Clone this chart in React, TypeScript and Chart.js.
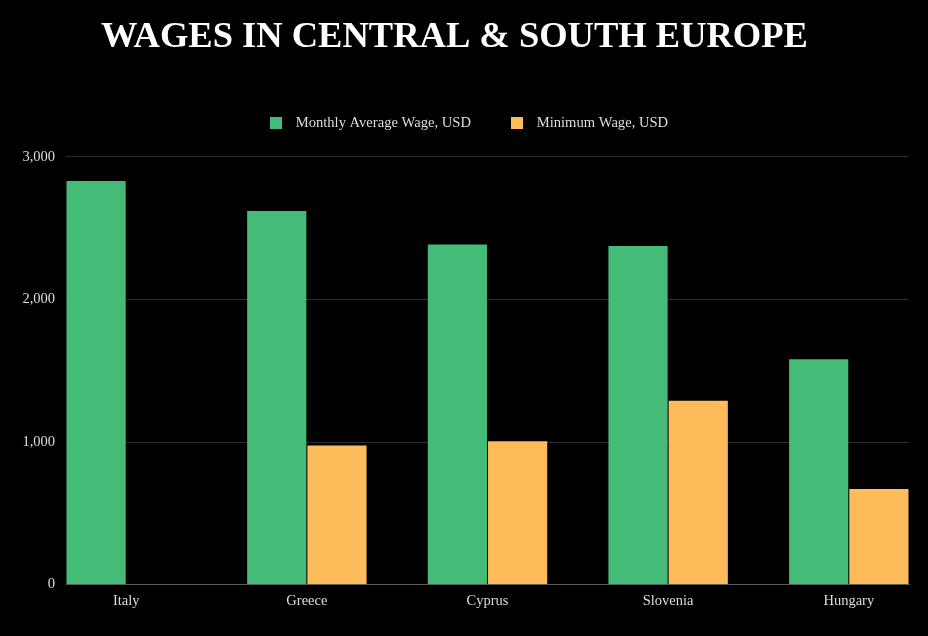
import React, { useEffect, useRef } from "react";
import { Chart, registerables } from "chart.js";

Chart.register(...registerables);

const categories = ["Italy", "Greece", "Cyprus", "Slovenia", "Hungary"];
const averageWage = [2830, 2620, 2385, 2375, 1580];
const minimumWage = [null, 975, 1005, 1290, 670];
const yTickValues = [0, 1000, 2000, 3000];

const seriesLabels = ["Monthly Average Wage, USD", "Minimum Wage, USD"];
const titleText = "WAGES IN CENTRAL & SOUTH EUROPE";

const GREEN = "#45bb78";
const ORANGE = "#fdbb5a";
const FONT = "'Liberation Serif', 'Times New Roman', serif";

function swatch(color: string) {
  const c = document.createElement("canvas");
  c.width = 12;
  c.height = 12;
  const ctx = c.getContext("2d")!;
  ctx.fillStyle = color;
  ctx.fillRect(0, 0, 12, 12);
  return c;
}

export default function App() {
  const ref = useRef<HTMLCanvasElement | null>(null);

  useEffect(() => {
    document.body.style.margin = "0";
    document.body.style.background = "#000";
    const canvas = ref.current;
    if (!canvas) return;

    const swatches = [swatch(GREEN), swatch(ORANGE)];

    const legendTweak = {
      id: "legendTweak",
      beforeLayout(chart: any) {
        const lg = chart.legend;
        if (lg && !lg.__patched) {
          const orig = lg.fit;
          lg.fit = function () {
            orig.call(this);
            this.height = 74;
          };
          lg.__patched = true;
        }
      },
      afterLayout(chart: any) {
        const lg = chart.legend;
        if (lg) {
          lg.left += 11;
          lg.right += 11;
        }
      },
    };

    const chart = new Chart(canvas, {
      type: "bar",
      data: {
        labels: categories,
        datasets: [
          {
            label: seriesLabels[0],
            data: averageWage,
            backgroundColor: GREEN,
            borderWidth: 0,
            categoryPercentage: 2 / 3,
            barPercentage: 0.983,
          },
          {
            label: seriesLabels[1],
            data: minimumWage as any,
            backgroundColor: ORANGE,
            borderWidth: 0,
            categoryPercentage: 2 / 3,
            barPercentage: 0.983,
          },
        ],
      },
      options: {
        responsive: false,
        animation: false,
        layout: { padding: { left: 0, right: 19, top: 0, bottom: 18 } },
        plugins: {
          title: {
            display: true,
            text: titleText,
            color: "#ffffff",
            font: { family: FONT, size: 36.5, weight: "bold" },
            padding: { top: 16, bottom: 23 },
          },
          legend: {
            display: true,
            labels: {
              color: "#dddddd",
              font: { family: FONT, size: 14.6 },
              usePointStyle: true,
              pointStyleWidth: 25.5,
              boxHeight: 12,
              padding: 33,
              generateLabels: (chart: any) => {
                const items = Chart.defaults.plugins.legend.labels.generateLabels(chart);
                return items.map((it: any, i: number) => ({
                  ...it,
                  pointStyle: swatches[i],
                }));
              },
            },
          },
          tooltip: { enabled: false },
        },
        scales: {
          x: {
            grid: { display: false, drawTicks: false },
            border: { display: true, color: "#5a5a5a", width: 1 },
            ticks: {
              color: "#dddddd",
              font: { family: FONT, size: 14.5 },
              padding: 8,
            },
            afterBuildTicks: (scale: any) => {
              const n = scale.getLabels().length;
              const half = 1 / 3;
              scale._startValue = -half;
              scale._valueRange = n - 1 + 2 * half;
            },
          },
          y: {
            min: 0,
            max: 3000,
            grid: { color: "#2e2e2e", drawTicks: false, lineWidth: 1 },
            border: { display: false },
            ticks: {
              color: "#dddddd",
              font: { family: FONT, size: 14.5 },
              padding: 11,
              stepSize: 1000,
              callback: (v: any) => Number(v).toLocaleString("en-US"),
            },
            afterBuildTicks: (scale: any) => {
              scale.ticks = yTickValues.map((value) => ({ value }));
            },
            afterFit: (scale: any) => {
              scale.width = 66;
            },
          },
        },
      },
      plugins: [legendTweak],
    });

    return () => chart.destroy();
  }, []);

  return (
    <div
      style={{
        position: "absolute",
        left: 0,
        top: 0,
        width: 928,
        height: 636,
        background: "#000",
      }}
    >
      <canvas ref={ref} width={928} height={636} style={{ display: "block" }} />
    </div>
  );
}
